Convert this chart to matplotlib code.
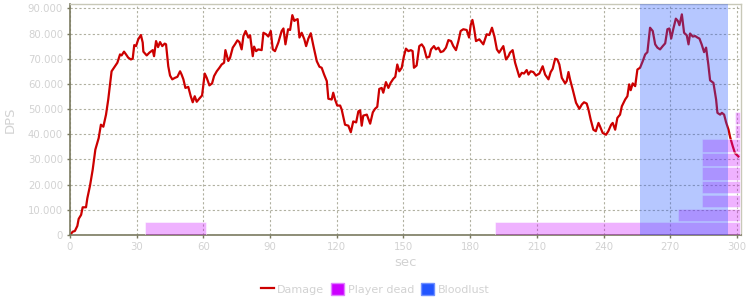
import numpy as np
import matplotlib.pyplot as plt
from matplotlib.ticker import FuncFormatter, MultipleLocator
from matplotlib.lines import Line2D
from matplotlib.patches import Patch

# damage line, sec / DPS
sec = [0, 1.2, 2.2, 3.3, 3.9, 5.0, 5.7, 7.2, 7.8, 9.0, 10.2, 11.4, 12.9, 13.9, 15.0,
       16.2, 17.2, 18.7, 20.2, 21.3, 22.5, 23.2, 24.3, 25.2, 26.2, 27.4, 28.2, 28.9,
       29.7, 30.7, 31.9, 32.7, 33.0, 34.5, 35.7, 37.2, 37.8, 38.7, 39.6, 40.5, 41.5,
       42.6, 43.2, 44.2, 45.0, 46.0, 47.2, 48.3, 49.5, 50.2, 51.0, 51.9, 53.2, 54.3,
       55.2, 56.1, 57.0, 58.2, 59.4, 60.6, 61.5, 62.7, 63.9, 64.8, 66.0, 67.2, 68.2,
       69.3, 69.9, 71.2, 72.0, 73.2, 74.2, 75.3, 76.2, 77.2, 78.0, 79.0, 80.2, 81.0,
       82.2, 82.8, 83.7, 84.7, 86.2, 87.0, 88.2, 89.2, 90.3, 91.2, 92.2, 93.7, 95.2,
       96.0, 96.9, 98.1, 99.0, 100.0, 100.9, 101.5, 102.4, 103.2, 104.2, 105.4, 106.2,
       107.2, 108.3, 109.5, 111.0, 112.2, 113.2, 114.3, 115.5, 116.2, 117.7, 118.4,
       119.2, 120.2, 121.5, 122.2, 123.7, 125.2, 126.3, 127.4, 128.7, 129.7, 130.5,
       131.2, 131.9, 133.5, 135.0, 136.2, 137.2, 138.2, 139.1, 140.2, 140.9, 142.1,
       143.2, 144.2, 145.4, 146.3, 147.2, 148.1, 149.2, 150.2, 151.1, 152.2, 153.3,
       154.1, 154.7, 155.9, 157.1, 158.2, 159.2, 160.4, 161.6, 162.4, 163.7, 164.6,
       165.7, 166.7, 167.9, 169.1, 170.2, 171.4, 172.4, 173.6, 174.7, 175.7, 176.9,
       178.4, 179.5, 180.2, 181.0, 181.7, 182.6, 184.1, 185.9, 187.4, 188.6, 189.8,
       190.9, 192.0, 193.0, 194.9, 196.1, 197.2, 197.9, 199.1, 200.2, 202.1, 203.2,
       204.2, 205.4, 206.2, 207.2, 208.4, 209.6, 211.1, 212.6, 213.7, 215.2, 216.2,
       217.1, 218.2, 219.2, 220.1, 221.2, 222.7, 223.4, 224.2, 224.9, 226.1, 227.6,
       229.1, 230.2, 231.2, 232.4, 233.2, 234.2, 235.4, 236.5, 237.7, 238.4, 239.6,
       241.1, 242.1, 243.4, 244.1, 245.2, 246.2, 247.4, 248.2, 249.7, 250.7, 251.5,
       252.2, 253.1, 254.2, 255.2, 256.4, 257.6, 258.7, 259.7, 260.9, 262.1, 263.2,
       264.2, 265.4, 266.6, 267.7, 268.7, 269.6, 270.4, 271.4, 272.5, 273.4, 274.1,
       275.2, 276.2, 277.4, 278.2, 278.9, 280.1, 281.2, 282.2, 283.1, 284.1, 285.2,
       286.1, 287.1, 287.9, 289.4, 290.6, 291.2, 292.4, 293.2, 294.2, 295.1, 296.2,
       296.9, 298.1, 299.1, 300.6]
dps = [0, 1.3, 1.6, 3.6, 6.4, 8.0, 11.0, 11.0, 14.6, 19.6, 25.9, 33.9, 38.5, 43.8, 43.0,
       47.8, 53.8, 65.0, 67.0, 68.4, 71.7, 71.3, 72.8, 71.7, 70.4, 69.7, 70.0, 75.4,
       75.0, 77.7, 79.4, 76.4, 72.8, 71.3, 72.4, 73.4, 71.0, 77.0, 74.6, 76.6, 75.0,
       76.0, 75.7, 67.0, 63.3, 61.8, 62.4, 62.8, 65.0, 63.7, 61.8, 58.4, 58.8, 55.1,
       52.7, 55.1, 52.9, 54.2, 55.4, 64.1, 62.4, 59.4, 60.2, 63.1, 65.0, 66.4, 67.7,
       68.4, 73.4, 69.1, 70.4, 74.4, 75.7, 77.3, 76.6, 73.7, 79.0, 81.0, 78.4, 79.3,
       71.0, 74.8, 73.0, 73.7, 73.4, 80.3, 79.7, 78.8, 81.0, 73.7, 73.0, 76.4, 81.0,
       82.0, 75.7, 81.7, 81.4, 87.3, 85.0, 85.4, 85.7, 78.4, 80.3, 77.7, 75.0,
       78.0, 80.1, 75.0, 69.0, 66.8, 66.4, 63.7, 61.1, 54.1, 53.8, 56.5,
       53.8, 51.4, 51.4, 49.8, 43.8, 43.4, 40.8, 45.1, 44.7, 49.1, 49.5,
       43.4, 47.4, 47.8, 44.2, 48.7, 50.1, 50.9, 58.0, 58.4, 56.5, 60.7,
       58.4, 60.4, 62.0, 62.8, 67.7, 65.0, 66.4, 71.0, 74.0, 73.0, 73.4,
       73.0, 66.4, 67.3, 75.0, 75.7, 74.4, 70.4, 70.8, 73.7, 75.0, 73.7,
       74.4, 72.6, 73.0, 74.4, 77.4, 77.0, 75.0, 73.4, 77.0, 81.0, 81.7,
       81.4, 78.4, 83.3, 85.4, 82.3, 77.0, 77.7, 75.7, 79.7, 79.4, 82.3,
       78.8, 73.7, 72.4, 75.0, 69.7, 71.0, 72.4, 73.4, 68.4, 62.8, 64.4,
       64.1, 65.5, 63.7, 65.0, 64.7, 63.3, 64.1, 67.0, 63.7, 61.8, 64.7,
       66.0, 70.0, 69.7, 67.7, 62.4, 60.2, 61.1, 64.7, 61.8, 57.8, 52.5,
       50.1, 51.8, 52.7, 52.2, 49.8, 45.8, 41.8, 41.2, 44.5, 43.1, 40.5,
       39.8, 41.2, 43.8, 44.5, 41.8, 46.5, 47.8, 51.1, 53.8, 55.1, 59.8,
       57.5, 60.2, 59.1, 65.7, 66.4, 69.0, 71.7, 72.6, 82.3, 81.0, 75.7,
       74.4, 73.7, 75.0, 76.1, 81.7, 82.0, 78.0, 82.0, 85.9, 85.0, 83.3,
       87.6, 80.3, 79.3, 75.7, 80.0, 78.8, 79.0, 78.4, 78.0, 75.7, 72.6,
       74.4, 67.7, 61.4, 60.4, 53.8, 48.5, 47.8, 48.5, 47.8, 44.7, 41.8,
       38.9, 35.2, 32.5, 31.2]
dps = np.array(dps) * 1000

# player dead bars: start, end, base
dead_start = [33.8, 191.2, 273.5, 284.3, 284.3, 284.3, 284.3, 284.3, 299.3, 299.3]
dead_end = [61.0, 301.2, 301.2, 301.2, 301.2, 301.2, 301.2, 301.2, 301.2, 301.2]
dead_base = [0, 0, 5500, 11000, 16500, 22000, 27500, 33000, 38500, 44000]
dead_height = 5000

# bloodlust window
bl_start, bl_end = 256.4, 296.0

grey = '#d2d2d2'
plt.rcParams['font.family'] = ['DejaVu Sans']

fig = plt.figure(figsize=(7.5, 3), dpi=100)
ax = fig.add_axes([70/750, 1-235/300, 671/750, 230.7/300])

ax.plot(sec, dps, color='#cc0000', lw=1.6, zorder=2)
ax.bar(x=dead_start, height=dead_height, width=np.array(dead_end) - np.array(dead_start),
       bottom=dead_base, align='edge', facecolor=(0.8, 0.0, 1.0, 0.3),
       edgecolor=(1, 1, 1, 0.5), lw=0.7, zorder=3)
ax.axvspan(bl_start, bl_end, color='#2255ff', alpha=0.33, lw=0, zorder=4)

ax.set_xlim(0, 301.8)
ax.set_ylim(0, 91600)
ax.xaxis.set_major_locator(MultipleLocator(30))
ax.yaxis.set_major_locator(MultipleLocator(10000))
ax.yaxis.set_major_formatter(FuncFormatter(lambda v, p: f"{int(v):,}".replace(",", ".")))

ax.grid(True, color='#b0b0a0', ls=(0, (2, 2)), lw=0.8, zorder=1)
ax.set_axisbelow(True)
for s in ['left', 'bottom']:
    ax.spines[s].set_color('#7a7a60')
    ax.spines[s].set_linewidth(1.2)
for s in ['top', 'right']:
    ax.spines[s].set_color('#c8c8b8')
    ax.spines[s].set_linewidth(1.0)
ax.tick_params(colors='#7a7a60', labelcolor=grey, labelsize=7.3, length=2.5, width=1, pad=2.5)

ax.set_xlabel('sec', color=grey, fontsize=9.5, labelpad=3)
ax.set_ylabel('DPS', color=grey, fontsize=9.5, labelpad=8)

handles = [Line2D([], [], color='#cc0000', lw=1.6),
           Patch(facecolor='#cc00ff', edgecolor='#e080ff'),
           Patch(facecolor='#2255ff', edgecolor='#7090ff')]
leg = fig.legend(handles, ['Damage', 'Player dead', 'Bloodlust'], loc='center',
                 bbox_to_anchor=(0.5, 1-289/300), ncol=3, frameon=False,
                 fontsize=8, handlelength=1.2, handleheight=1.2, handletextpad=0.3,
                 columnspacing=0.6)
for t in leg.get_texts():
    t.set_color(grey)

fig.savefig('out.png', dpi=100)
